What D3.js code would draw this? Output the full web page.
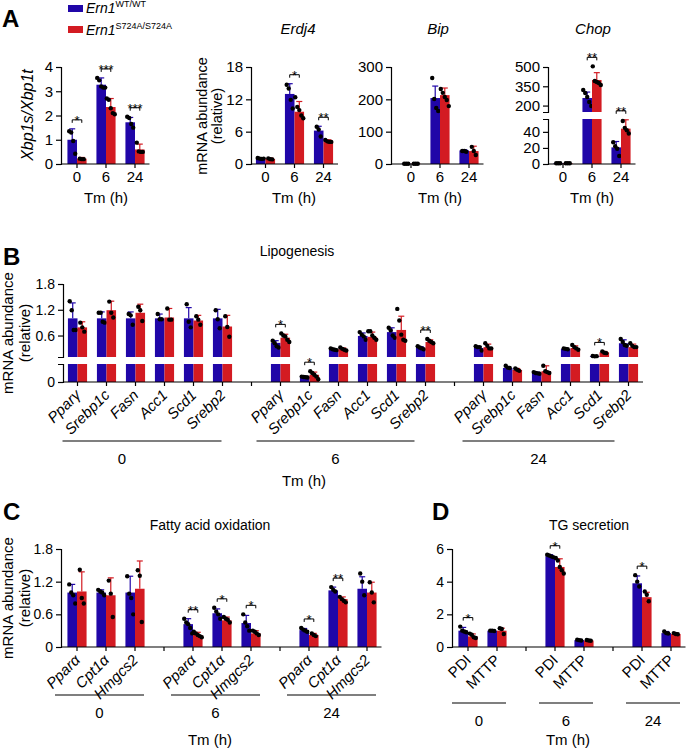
<!DOCTYPE html>
<html>
<head>
<meta charset="utf-8">
<script src="https://cdn.jsdelivr.net/npm/d3@7"></script>
<style>
  body { margin: 0; background: #fff; }
  svg { font-family: Arial, "Liberation Sans", Helvetica, sans-serif; }
</style>
</head>
<body>
<svg width="688" height="750"></svg>
<script>
'use strict';

const tmLabels = ["0", "6", "24"];

// each entry: [mean, top of error bar, individual mice]
const xbp1WT = [[1.0, 1.45, [1.35, 1.3, 0.95, 0.42]], [3.27, 3.55, [3.55, 3.45, 3.2, 3.15, 3.15]], [1.72, 1.92, [1.95, 1.9, 1.65, 1.5]]];
const xbp1KI = [[0.22, 0.27, [0.22, 0.2, 0.2]], [2.35, 2.7, [2.7, 2.65, 2.3, 2.1, 2.05]], [0.6, 0.82, [0.88, 0.52, 0.5, 0.5]]];
const xbp1Sig = ["*", "***", "***"];

const erdj4WT = [[1.05, 1.15, [1.1, 1.0, 0.95, 1.0]], [13.0, 14.9, [14.7, 14.0, 11.9, 10.3]], [6.2, 7.0, [6.9, 6.4, 5.1]]];
const erdj4KI = [[0.95, 1.1, [1.05, 0.9, 0.85]], [9.7, 11.6, [12.4, 10.6, 10.0, 9.0, 8.5]], [4.15, 4.5, [4.45, 4.2, 4.1, 4.1]]];
const erdj4Sig = ["", "*", "**"];

const bipWT = [[1, 1.5, [1, 1, 1]], [204, 241, [266, 201, 173, 164]], [42, 44, [40, 40, 38]]];
const bipKI = [[1, 1.5, [1, 1, 1]], [213, 235, [232, 220, 207, 198, 179]], [40, 55, [53, 40, 28]]];
const bipSig = ["", "", ""];

const chopWT = [[1, 1.5, [1, 1, 1]], [259, 305, [321, 298, 267, 228, 197]], [20.7, 28, [27, 22, 19, 10]]];
const chopKI = [[1, 1.5, [1, 1, 1]], [399, 456, [505, 391, 383, 376, 360]], [44, 55, [53.5, 45, 42, 38]]];
const chopSig = ["", "**", "**"];

const lipoGenes = ["Pparγ", "Srebp1c", "Fasn", "Acc1", "Scd1", "Srebp2"];
// 0 h genes, then 6 h, then 24 h
const lipoWT = [
  [1.0, 1.36, [1.4, 1.19, 0.73, 0.73]], [1.0, 1.15, [1.13, 1.13, 0.92, 0.9]], [1.0, 1.15, [1.1, 1.07, 0.85]],
  [1.0, 1.1, [1.1, 0.98, 0.98]], [1.0, 1.25, [1.33, 0.92, 0.79]], [1.0, 1.21, [1.19, 0.98, 0.77]],
  [0.43, 0.48, [0.48, 0.42, 0.35, 0.32]], [0.028, 0.032, [0.03, 0.028, 0.026, 0.025]], [0.27, 0.29, [0.3, 0.28, 0.27, 0.26]],
  [0.59, 0.66, [0.68, 0.62, 0.58, 0.5]], [0.68, 0.78, [0.78, 0.72, 0.6, 0.55]], [0.31, 0.34, [0.35, 0.32, 0.3, 0.28]],
  [0.31, 0.34, [0.35, 0.33, 0.33, 0.25]], [0.078, 0.085, [0.09, 0.08, 0.078]], [0.05, 0.055, [0.055, 0.05, 0.048, 0.046]],
  [0.29, 0.3, [0.3, 0.29, 0.28]], [0.12, 0.13, [0.125, 0.115, 0.12]], [0.42, 0.5, [0.52, 0.45, 0.38, 0.36]]
];
const lipoKI = [
  [0.79, 0.92, [0.9, 0.79, 0.69]], [1.19, 1.4, [1.39, 1.13, 1.02]], [1.13, 1.33, [1.27, 1.19, 0.94]],
  [1.02, 1.23, [1.23, 0.97, 0.97]], [0.95, 1.07, [1.05, 0.97, 0.85]], [0.81, 1.07, [1.05, 0.8, 0.57]],
  [0.55, 0.63, [0.65, 0.6, 0.58, 0.5, 0.45]], [0.04, 0.055, [0.06, 0.05, 0.04, 0.03, 0.015]], [0.28, 0.31, [0.32, 0.29, 0.27, 0.25]],
  [0.57, 0.68, [0.7, 0.7, 0.6, 0.55, 0.5]], [0.73, 1.05, [1.22, 0.95, 0.62, 0.5, 0.48]], [0.45, 0.5, [0.52, 0.48, 0.45, 0.42]],
  [0.33, 0.4, [0.42, 0.36, 0.3, 0.3]], [0.067, 0.075, [0.075, 0.068, 0.062]], [0.06, 0.09, [0.09, 0.06, 0.055, 0.05]],
  [0.31, 0.36, [0.38, 0.33, 0.3, 0.27]], [0.21, 0.23, [0.23, 0.2, 0.19]], [0.33, 0.4, [0.42, 0.36, 0.33, 0.33]]
];
const lipoSig = ["", "", "", "", "", "", "*", "*", "", "", "", "**", "", "", "", "", "*", ""];

const faoGenes = ["Pparα", "Cpt1α", "Hmgcs2"];
const faoWT = [
  [1.0, 1.15, [1.15, 1.0, 0.95, 0.8]], [1.0, 1.05, [1.05, 1.02, 1.0, 0.95]], [1.0, 1.3, [1.3, 0.98, 0.9, 0.6]],
  [0.42, 0.52, [0.52, 0.45, 0.42, 0.35, 0.25]], [0.62, 0.7, [0.72, 0.65, 0.6, 0.52]], [0.44, 0.58, [0.6, 0.45, 0.38, 0.3]],
  [0.31, 0.34, [0.35, 0.32, 0.3, 0.28]], [1.04, 1.1, [1.1, 1.05, 1.02]], [1.07, 1.29, [1.35, 1.2, 0.95]]
];
const faoKI = [
  [1.02, 1.38, [1.42, 0.9, 0.8]], [0.95, 1.27, [1.22, 0.98, 0.55]], [1.07, 1.58, [1.41, 1.31, 0.46]],
  [0.22, 0.27, [0.28, 0.25, 0.22, 0.2, 0.18]], [0.49, 0.55, [0.55, 0.52, 0.5, 0.45]], [0.25, 0.3, [0.3, 0.28, 0.25, 0.22]],
  [0.22, 0.25, [0.25, 0.22, 0.2]], [0.88, 0.92, [0.92, 0.88, 0.85, 0.82]], [1.0, 1.19, [1.19, 1.0, 0.82]]
];
const faoSig = ["", "", "", "**", "*", "*", "*", "**", ""];

const tgGenes = ["PDI", "MTTP"];
const tgWT = [
  [1.0, 1.2, [1.25, 1.0, 0.95, 0.9]], [1.0, 1.03, [1.0, 1.0, 0.98]],
  [5.55, 5.65, [5.65, 5.6, 5.55, 5.5]], [0.42, 0.46, [0.45, 0.42, 0.4]],
  [3.9, 4.35, [4.4, 4.0, 3.7]], [0.85, 0.95, [0.95, 0.85, 0.83]]
];
const tgKI = [
  [0.65, 0.8, [0.82, 0.75, 0.6, 0.55]], [1.0, 1.15, [1.15, 1.1, 0.8]],
  [4.9, 5.4, [5.45, 5.3, 4.9, 4.7, 4.5]], [0.4, 0.43, [0.43, 0.4, 0.38]],
  [3.05, 3.35, [3.4, 3.2, 2.8]], [0.8, 0.85, [0.85, 0.8, 0.78]]
];
const tgSig = ["*", "", "*", "", "*", ""];

const BLUE = "#2006a8", RED = "#d31b22";
const svg = d3.select("svg");

function txt(x, y, s, size, opts = {}) {
  const t = svg.append("text").attr("x", x).attr("y", y)
    .style("font-size", size + "px").attr("text-anchor", opts.anchor || "middle").text(s);
  if (opts.italic) t.style("font-style", "italic");
  if (opts.bold) t.style("font-weight", "bold");
  if (opts.rotate) t.attr("transform", `rotate(-90,${x},${y})`);
  return t;
}

function panel(o) {
  const g = svg.append("g");
  const segs = o.segs.map(s => Object.assign({}, s, { sc: d3.scaleLinear().domain(s.dom).range(s.rng) }));
  const y = v => {
    for (const s of segs) if (v <= s.dom[1]) return s.sc(Math.max(v, s.dom[0]));
    return segs[segs.length - 1].sc(v);
  };
  const base = segs[0].rng[0];
  const x = d3.scaleBand().domain(d3.range(o.n)).range([o.start, o.start + o.n * o.slot]);
  const bw = o.slot * 0.33;
  const slotOf = j => o.per ? Math.floor(j / o.per) * (o.per + 1) + j % o.per : j;
  const cx = j => x(slotOf(j)) + x.bandwidth() / 2;

  // bars, error bars, dots
  [[o.wt, BLUE, -1], [o.ki, RED, 1]].forEach(([rows, col, side]) => {
    rows.forEach((r, j) => {
      const [m, e, pts] = r;
      const x0 = side < 0 ? cx(j) - bw : cx(j);
      const bc = x0 + bw / 2;
      segs.forEach(s => {
        if (m <= s.dom[0]) return;
        const top = s.sc(Math.min(m, s.dom[1]));
        g.append("rect").attr("x", x0).attr("y", top).attr("width", bw)
          .attr("height", s.rng[0] - top).attr("fill", col);
      });
      g.append("line").attr("x1", bc).attr("x2", bc).attr("y1", y(m)).attr("y2", y(e))
        .attr("stroke", col).attr("stroke-width", 1.2);
      g.append("line").attr("x1", bc - 3).attr("x2", bc + 3).attr("y1", y(e)).attr("y2", y(e))
        .attr("stroke", col).attr("stroke-width", 1.2);
      g.selectAll(null).data(pts).enter().append("circle")
        .attr("cx", (d, i) => bc + (i - (pts.length - 1) / 2) * 2)
        .attr("cy", d => y(d)).attr("r", 2.2).attr("fill", "#000");
    });
  });

  // significance brackets
  o.sig.forEach((s, j) => {
    if (!s) return;
    const a = o.wt[j], b = o.ki[j];
    const hi = d3.max([a[1], b[1]].concat(a[2], b[2]));
    const yb = y(hi) - 9;
    const x1 = cx(j) - bw / 2, x2 = cx(j) + bw / 2;
    g.append("path").attr("d", `M${x1},${yb + 3}V${yb}H${x2}V${yb + 3}`)
      .attr("fill", "none").attr("stroke", "#000").attr("stroke-width", 1);
    g.append("text").attr("x", (x1 + x2) / 2).attr("y", yb + 5).attr("text-anchor", "middle")
      .style("font-size", "13px").text(s);
  });

  // y axis segments
  segs.forEach(s => {
    const ax = g.append("g").attr("transform", `translate(${o.axisX},0)`)
      .call(d3.axisLeft(s.sc).tickValues(s.ticks).tickSize(5).tickSizeOuter(5).tickFormat(v => String(v)));
    ax.selectAll("text").style("font-size", o.tickFont + "px").attr("fill", "#000").attr("x", -8);
    ax.selectAll("path,line").attr("stroke", "#000").attr("stroke-width", 1.2);
  });

  // x axis
  const xa = g.append("g").attr("transform", `translate(0,${base})`)
    .call(d3.axisBottom(x).tickSize(4).tickSizeOuter(0).tickFormat(i => o.xLabels ? o.xLabels[i] : ""));
  xa.select(".domain").remove();
  xa.append("line").attr("x1", o.axisX).attr("x2", o.start + o.n * o.slot).attr("stroke", "#000").attr("stroke-width", 1.2);
  xa.selectAll("line").attr("stroke", "#000").attr("stroke-width", 1.2);
  xa.selectAll("text").style("font-size", (o.xFont || 15) + "px").attr("fill", "#000");

  // rotated gene names and time groups
  if (o.genes) {
    o.wt.forEach((r, j) => {
      const name = o.genes[j % o.per];
      g.append("text").attr("transform", `translate(${cx(j) + 4},${base + 14}) rotate(-45)`)
        .attr("text-anchor", "end").style("font-size", "15px")
        .style("font-style", o.upright ? "normal" : "italic").text(name);
    });
    tmLabels.forEach((t, k) => {
      const sp = o.lines[k];
      const xa0 = cx(k * o.per) + sp[0], xa1 = cx(k * o.per + o.per - 1) + sp[1];
      g.append("line").attr("x1", xa0).attr("x2", xa1).attr("y1", o.lineY).attr("y2", o.lineY)
        .attr("stroke", "#000").attr("stroke-width", 1.2);
      g.append("text").attr("x", (xa0 + xa1) / 2 + (sp[2] || 0)).attr("y", o.lineY + 23).attr("text-anchor", "middle")
        .style("font-size", "15px").text(t);
    });
  }
}

// ---- Panel A ----
txt(2, 27, "A", 24, { anchor: "start", bold: true });
svg.append("rect").attr("x", 68).attr("y", 5).attr("width", 15).attr("height", 7).attr("fill", BLUE);
svg.append("rect").attr("x", 68).attr("y", 26).attr("width", 15).attr("height", 7).attr("fill", RED);
[["WT/WT", 13], ["S724A/S724A", 35]].forEach(([sup, yy]) => {
  const t = svg.append("text").attr("x", 86).attr("y", yy).style("font-size", "14px");
  t.append("tspan").style("font-style", "italic").text("Ern1");
  t.append("tspan").attr("dy", -6).style("font-size", "9px").text(sup);
});

panel({ axisX: 61, start: 62.5, slot: 29, n: 3, segs: [{ dom: [0, 4], rng: [164, 67], ticks: [0, 1, 2, 3, 4] }],
  wt: xbp1WT, ki: xbp1KI, sig: xbp1Sig, xLabels: tmLabels, tickFont: 15 });
panel({ axisX: 251, start: 251, slot: 29, n: 3, segs: [{ dom: [0, 18], rng: [164, 67], ticks: [0, 6, 12, 18] }],
  wt: erdj4WT, ki: erdj4KI, sig: erdj4Sig, xLabels: tmLabels, tickFont: 15 });
panel({ axisX: 391, start: 396.5, slot: 29, n: 3, segs: [{ dom: [0, 300], rng: [164, 67], ticks: [0, 100, 200, 300] }],
  wt: bipWT, ki: bipKI, sig: bipSig, xLabels: tmLabels, tickFont: 15 });
panel({ axisX: 548, start: 548.5, slot: 29, n: 3,
  segs: [{ dom: [0, 56], rng: [164, 119], ticks: [0, 20, 40] }, { dom: [150, 500], rng: [112, 67], ticks: [200, 350, 500] }],
  wt: chopWT, ki: chopKI, sig: chopSig, xLabels: tmLabels, tickFont: 15 });

txt(33, 115, "Xbp1s/Xbp1t", 16, { italic: true, rotate: true });
txt(207, 116, "mRNA abundance", 14.5, { rotate: true });
txt(222, 116, "(relative)", 14.5, { rotate: true });
txt(298, 34, "Erdj4", 15, { italic: true });
txt(438, 34, "Bip", 15, { italic: true });
txt(593, 34, "Chop", 15, { italic: true });
[106, 294, 440, 592].forEach(xx => txt(xx, 203, "Tm (h)", 15));

// ---- Panel B ----
txt(3, 265, "B", 24, { anchor: "start", bold: true });
txt(297, 256, "Lipogenesis", 14);
panel({ axisX: 63, start: 63, slot: 29, n: 20,
  segs: [{ dom: [0, 0.1], rng: [382, 364], ticks: [0] }, { dom: [0.1, 1.8], rng: [357, 284], ticks: [0.6, 1.2, 1.8] }],
  wt: lipoWT, ki: lipoKI, sig: lipoSig, genes: lipoGenes, per: 6, tickFont: 14,
  lines: [[-15, -1, -20], [-24, -11], [-21, -14]], lineY: 441 });
txt(13, 333, "mRNA abundance", 15, { rotate: true });
txt(30, 333, "(relative)", 15, { rotate: true });
txt(304, 486, "Tm (h)", 15);

// ---- Panel C ----
txt(3, 520, "C", 24, { anchor: "start", bold: true });
txt(210, 530, "Fatty acid oxidation", 14);
panel({ axisX: 61, start: 62.5, slot: 29, n: 11, segs: [{ dom: [0, 1.8], rng: [647, 549], ticks: [0, 0.6, 1.2, 1.8] }],
  wt: faoWT, ki: faoKI, sig: faoSig, genes: faoGenes, per: 3, tickFont: 14,
  lines: [[-22, 9], [-22, 9], [-22, 9]], lineY: 695 });
txt(13, 598, "mRNA abundance", 15, { rotate: true });
txt(30, 598, "(relative)", 15, { rotate: true });
txt(210, 745, "Tm (h)", 15);

// ---- Panel D ----
txt(432, 520, "D", 24, { anchor: "start", bold: true });
txt(589, 530, "TG secretion", 14);
panel({ axisX: 452, start: 453.5, slot: 29, n: 8, segs: [{ dom: [0, 6], rng: [647, 549], ticks: [0, 2, 4, 6] }],
  wt: tgWT, ki: tgKI, sig: tgSig, genes: tgGenes, per: 2, upright: true, tickFont: 14,
  lines: [[-16, 9], [-16, 9], [-16, 9]], lineY: 703 });
txt(568, 745, "Tm (h)", 15);
</script>
</body>
</html>
